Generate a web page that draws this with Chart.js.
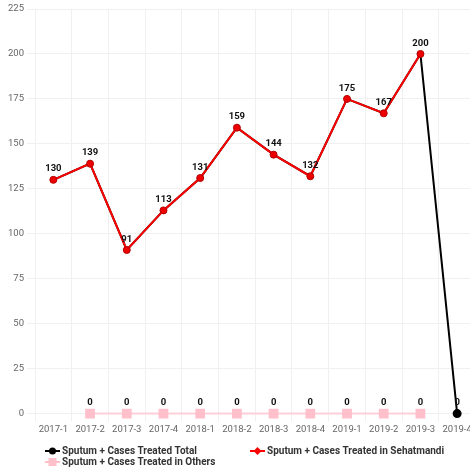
<!DOCTYPE html>
<html>
<head>
<meta charset="utf-8">
<script src="https://cdn.jsdelivr.net/npm/chart.js@4.4.0/dist/chart.umd.min.js"></script>
<style>
    html, body { margin: 0; padding: 0; overflow: hidden; background: #fff; }
    #wrap { width: 483px; height: 472px; }
</style>
</head>
<body>
<div id="wrap"><canvas id="casesChart"></canvas></div>
<script>
const quarters = ["2017-1", "2017-2", "2017-3", "2017-4", "2018-1", "2018-2", "2018-3", "2018-4", "2019-1", "2019-2", "2019-3", "2019-4"];
const totalCases = [130, 139, 91, 113, 131, 159, 144, 132, 175, 167, 200, 0];
const sehatmandiCases = [130, 139, 91, 113, 131, 159, 144, 132, 175, 167, 200, null];
const otherCases = [null, 0, 0, 0, 0, 0, 0, 0, 0, 0, 0, null];
const yTicks = [0, 25, 50, 75, 100, 125, 150, 175, 200, 225];

const FONT = "Roboto, 'Noto Sans', sans-serif";

// value labels over the points
const valueLabels = {
    id: "valueLabels",
    afterDatasetsDraw(chart) {
        const ctx = chart.ctx;
        ctx.save();
        ctx.font = "bold 9.5px " + FONT;
        ctx.fillStyle = "#111";
        ctx.textAlign = "center";
        ctx.textBaseline = "bottom";
        chart.data.datasets.forEach((ds, i) => {
            const meta = chart.getDatasetMeta(i);
            meta.data.forEach((pt, j) => {
                const v = ds.data[j];
                if (v === null) return;
                // total is hidden under sehatmandi where both exist
                if (i === 0 && sehatmandiCases[j] !== null) return;
                ctx.fillText(String(v), pt.x, pt.y - 6);
            });
        });
        ctx.restore();
    }
};

// legend drawn by hand so the second row sits under the first item
const sideLegend = {
    id: "sideLegend",
    afterDraw(chart) {
        const ctx = chart.ctx;
        const items = [
            { text: "Sputum + Cases Treated Total", x: 45, y: 451, color: "#000", shape: "circle" },
            { text: "Sputum + Cases Treated in Sehatmandi", x: 250, y: 451, color: "#ff0000", shape: "star" },
            { text: "Sputum + Cases Treated in Others", x: 45, y: 462, color: "#ffc0cb", shape: "square" }
        ];
        ctx.save();
        items.forEach(it => {
            ctx.strokeStyle = it.color;
            ctx.fillStyle = it.color;
            ctx.lineWidth = 2;
            ctx.beginPath();
            ctx.moveTo(it.x, it.y);
            ctx.lineTo(it.x + 15, it.y);
            ctx.stroke();
            const cx = it.x + 7.5;
            ctx.beginPath();
            if (it.shape === "circle") {
                ctx.arc(cx, it.y, 3.5, 0, Math.PI * 2);
            } else if (it.shape === "square") {
                ctx.rect(cx - 4, it.y - 4, 8, 8);
            } else {
                ctx.moveTo(cx, it.y - 4);
                ctx.lineTo(cx + 4, it.y);
                ctx.lineTo(cx, it.y + 4);
                ctx.lineTo(cx - 4, it.y);
                ctx.closePath();
            }
            ctx.fill();
            ctx.font = "bold 10px " + FONT;
            ctx.fillStyle = "#333";
            ctx.textAlign = "left";
            ctx.textBaseline = "middle";
            ctx.fillText(it.text, it.x + 17, it.y);
        });
        ctx.restore();
    }
};

new Chart(document.getElementById("casesChart").getContext("2d"), {
    type: "line",
    data: {
        labels: quarters,
        datasets: [
            {
                label: "Sputum + Cases Treated Total",
                data: totalCases,
                borderColor: "#000",
                backgroundColor: "#000",
                pointBackgroundColor: "#000",
                pointBorderColor: "#000",
                borderWidth: 2,
                pointRadius: (c) => (sehatmandiCases[c.dataIndex] === null ? 3.5 : 0),
                tension: 0,
                clip: false,
                order: 1
            },
            {
                label: "Sputum + Cases Treated in Sehatmandi",
                data: sehatmandiCases,
                borderColor: "#ff0000",
                backgroundColor: "#ff0000",
                pointBackgroundColor: "#ee0000",
                pointBorderColor: "#b00000",
                pointBorderWidth: 1,
                borderWidth: 2,
                pointRadius: 3.5,
                tension: 0,
                clip: false,
                order: 0
            },
            {
                label: "Sputum + Cases Treated in Others",
                data: otherCases,
                borderColor: "#ffd0d8",
                backgroundColor: "#ffc0cb",
                pointBackgroundColor: "#ffc0cb",
                pointBorderColor: "#ffc0cb",
                pointStyle: "rect",
                borderWidth: 2,
                pointRadius: 5.5,
                tension: 0,
                clip: false,
                order: 2
            }
        ]
    },
    options: {
        responsive: true,
        maintainAspectRatio: false,
        animation: false,
        layout: {
            padding: { top: 9, right: 0, bottom: 35, left: 0 }
        },
        plugins: {
            legend: { display: false },
            tooltip: { enabled: false }
        },
        scales: {
            x: {
                offset: true,
                grid: {
                    offset: true,
                    color: "#f0f0f0",
                    tickLength: 8,
                    drawTicks: true
                },
                border: { display: false },
                ticks: {
                    color: "#666",
                    font: { family: FONT, size: 9.5 },
                    maxRotation: 0,
                    autoSkip: false,
                    padding: 2
                }
            },
            y: {
                min: 0,
                max: 225,
                afterBuildTicks: (scale) => {
                    scale.ticks = yTicks.map(v => ({ value: v }));
                },
                afterFit: (scale) => {
                    scale.width = 35;
                },
                grid: {
                    color: "#f0f0f0",
                    tickLength: 8
                },
                border: { display: false },
                ticks: {
                    color: "#666",
                    font: { family: FONT, size: 9.5 },
                    padding: 3
                }
            }
        }
    },
    plugins: [valueLabels, sideLegend]
});
</script>
</body>
</html>
